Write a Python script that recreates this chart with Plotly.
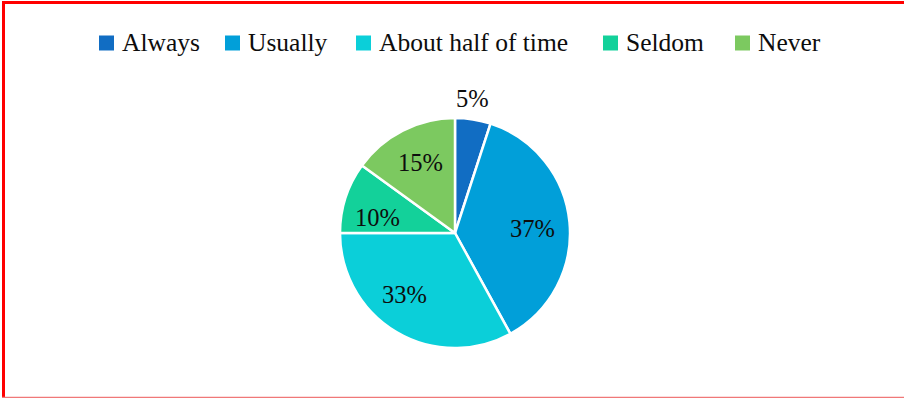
import plotly.graph_objects as go

# Survey response shares
categories = ["Always", "Usually", "About half of time", "Seldom", "Never"]
shares = [5, 37, 33, 10, 15]
colors = ["#116DC3", "#019FD9", "#0BCFD9", "#13D19A", "#7CC960"]

W, H = 904, 398
cx, cy, r = 455, 233, 115
SERIF = "Liberation Serif"
INK = "#0d0d0d"

# label offsets from the pie centre (px), one per slice
label_offsets = [(17, -135), (77, -5), (-51, 61), (-78, -16), (-35, -71)]
# legend entry left edges (px) and swatch size
legend_x = [99, 225, 356, 603, 735]
legend_y = 43
swatch = 15

fig = go.Figure(
    go.Pie(
        labels=categories,
        values=shares,
        sort=False,
        direction="clockwise",
        rotation=0,
        marker=dict(colors=colors, line=dict(color="white", width=2.5)),
        textinfo="none",
        hoverinfo="label+percent",
        domain=dict(x=[(cx - r) / W, (cx + r) / W], y=[(H - cy - r) / H, (H - cy + r) / H]),
        showlegend=False,
    )
)

annotations = []
shapes = []

# value labels
for v, (dx, dy) in zip(shares, label_offsets):
    annotations.append(dict(
        x=(cx + dx) / W, y=1 - (cy + dy) / H, xref="paper", yref="paper",
        text=f"{v}%", showarrow=False, xanchor="center", yanchor="middle",
        font=dict(family=SERIF, size=24.5, color=INK),
    ))

# legend: colour swatches with category names
for name, col, lx in zip(categories, colors, legend_x):
    shapes.append(dict(
        type="rect", xref="paper", yref="paper",
        x0=lx / W, x1=(lx + swatch) / W,
        y0=1 - (legend_y + swatch / 2) / H, y1=1 - (legend_y - swatch / 2) / H,
        fillcolor=col, line=dict(width=0),
    ))
    annotations.append(dict(
        x=(lx + swatch + 8) / W, y=1 - legend_y / H, xref="paper", yref="paper",
        text=name, showarrow=False, xanchor="left", yanchor="middle",
        xshift=-2, font=dict(family=SERIF, size=25.5, color=INK),
    ))

# frame lines
shapes += [
    dict(type="line", xref="paper", yref="paper", x0=2 / W, x1=1, y0=1 - 2.5 / H, y1=1 - 2.5 / H,
         line=dict(color="#FF0000", width=3)),
    dict(type="line", xref="paper", yref="paper", x0=3.5 / W, x1=3.5 / W, y0=0, y1=1 - 1 / H,
         line=dict(color="#FF0000", width=3)),
    dict(type="line", xref="paper", yref="paper", x0=2 / W, x1=1, y0=0.6 / H, y1=0.6 / H,
         line=dict(color="#F07878", width=1.5)),
]

fig.update_layout(
    width=W,
    height=H,
    margin=dict(l=0, r=0, t=0, b=0),
    paper_bgcolor="white",
    plot_bgcolor="white",
    font=dict(family=SERIF, size=25, color=INK),
    annotations=annotations,
    shapes=shapes,
)

fig.write_html("out.html")
